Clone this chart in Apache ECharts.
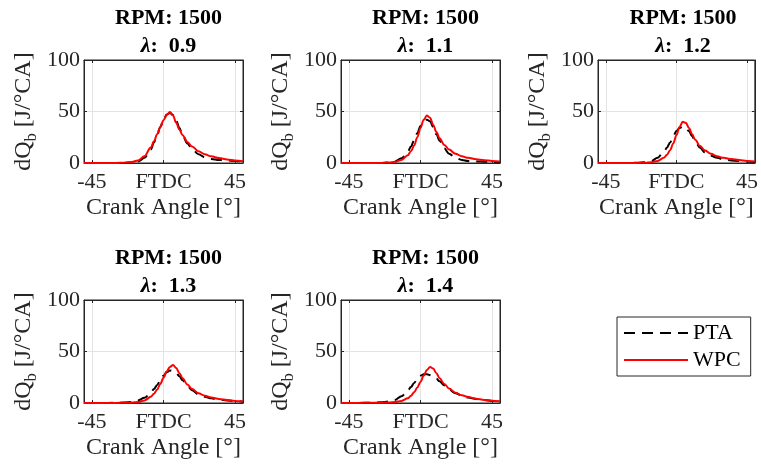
<!DOCTYPE html>
<html>
<head>
<meta charset="utf-8">
<script src="https://cdn.jsdelivr.net/npm/echarts@6/dist/echarts.min.js"></script>
<style>
  html, body { margin: 0; padding: 0; background: #ffffff; }
  #chart { width: 761px; height: 466px; }
</style>
</head>
<body>
<div id="chart"></div>
<script>
// Heat release rate dQb [J/°CA] vs crank angle, PTA vs WPC, 1500 RPM
const rpm = 1500;
const lambdas = ['0.9', '1.1', '1.2', '1.3', '1.4'];
const crankAngle = [-50, -40, -30, -25, -20, -16, -12, -8, -6, -4, -2, 0, 2, 4, 6, 8, 10, 12, 15, 18, 22, 26, 30, 35, 40, 45, 50];

const ptaL09 = [0, 0, 0, 0.1, 0.5, 1.5, 5, 13, 20, 27, 35, 42, 47, 48.5, 46.5, 41, 34, 27, 19, 13.5, 8.5, 5.5, 4, 3, 2.5, 2, 1.5];
const wpcL09 = [0, 0, 0.1, 0.3, 1, 2.5, 6.5, 15, 21, 28, 35, 41.5, 46.5, 49.5, 46, 39, 32.5, 27, 20.5, 16, 11.5, 8.5, 6.5, 4.8, 3.5, 2.5, 1.8];

const ptaL11 = [0, 0, 0, 0.1, 0.5, 1.5, 4.5, 11, 16, 22, 29, 36, 40.5, 42, 40.5, 35, 28, 21.5, 14, 9, 5, 3, 2, 1.5, 1.2, 1, 0.8];
const wpcL11 = [0, 0, 0, 0.1, 0.4, 1.2, 3, 7.5, 11.5, 17, 25, 34, 42, 46, 44, 37, 30, 24, 17.5, 13, 9, 6.5, 5, 3.6, 2.7, 2, 1.5];

const ptaL12 = [0, 0, 0, 0.2, 0.7, 2, 5, 11, 15, 20, 26, 31, 34, 35, 34.5, 31, 26, 21, 15, 10.5, 7, 5, 3.5, 2.5, 2, 1.5, 1];
const wpcL12 = [0, 0, 0, 0.1, 0.3, 0.8, 2, 5, 8, 12.5, 19, 27, 35, 40, 39, 34, 28, 22.5, 16.5, 12.5, 9, 6.5, 5, 3.8, 2.8, 2, 1.5];

const ptaL13 = [0, 0, 0.2, 0.5, 1, 2.5, 5, 10, 13.5, 17.5, 22, 26.5, 30, 31.5, 31, 29, 26, 22, 16.5, 12.5, 8.5, 6, 4.5, 3.2, 2.5, 1.8, 1.3];
const wpcL13 = [0, 0, 0.1, 0.2, 0.5, 1, 2.5, 6, 9, 13, 18.5, 24.5, 30.5, 35, 37, 34, 29, 24, 18, 13.5, 9.5, 7, 5.3, 3.8, 2.8, 2, 1.5];

const ptaL14 = [0, 0.1, 0.3, 0.7, 1.5, 3, 6.5, 12, 15.5, 19.5, 23.5, 26.5, 28, 28, 27, 25.5, 23.5, 21, 17, 13, 9.5, 7, 5.3, 3.8, 2.8, 2, 1.4];
const wpcL14 = [0, 0.1, 0.2, 0.3, 0.6, 1, 2, 4.5, 7, 10.5, 15, 20.5, 26.5, 32, 35, 33.5, 29, 24, 18.5, 14, 10, 7.5, 5.8, 4.2, 3, 2.2, 1.6];

const ptaSets = [ptaL09, ptaL11, ptaL12, ptaL13, ptaL14];
const wpcSets = [wpcL09, wpcL11, wpcL12, wpcL13, wpcL14];

const xTickValues = [-45, 0, 45];
const xTickLabels = ['-45', 'FTDC', '45'];
const yTickValues = [0, 50, 100];

// panel placement on the page
const panels = [
  { left: 84, top: 60, width: 159, height: 103 },
  { left: 341, top: 60, width: 159, height: 103 },
  { left: 598, top: 60, width: 160, height: 103 },
  { left: 84, top: 300, width: 159, height: 103 },
  { left: 341, top: 300, width: 159, height: 103 }
];

const FONT = 'Liberation Serif';
const AX = '#262626';
const GRIDC = '#e3e3e3';

const pairs = (xs, ys) => xs.map((x, i) => [x, ys[i]]);

const grids = [], xAxes = [], yAxes = [], titles = [], series = [];

panels.forEach((p, i) => {
  grids.push({ left: p.left, top: p.top, width: p.width, height: p.height,
    show: true, borderColor: AX, borderWidth: 1, backgroundColor: '#fff' });

  // bottom axis with labels
  xAxes.push({
    type: 'value', gridIndex: i, position: 'bottom', min: -50, max: 50,
    name: 'Crank Angle [°]', nameLocation: 'middle', nameGap: 33,
    nameTextStyle: { fontFamily: FONT, fontSize: 24, color: AX },
    axisLine: { show: true, onZero: false, lineStyle: { color: AX, width: 1 } },
    axisTick: { show: true, inside: true, length: 3, customValues: xTickValues, lineStyle: { color: AX } },
    axisLabel: { show: true, customValues: xTickValues, margin: 8, fontFamily: FONT, fontSize: 22, color: AX,
      formatter: v => xTickLabels[xTickValues.indexOf(v)] },
    splitLine: { show: true, lineStyle: { color: GRIDC, width: 1 } }
  });
  // top axis, ticks only
  xAxes.push({
    type: 'value', gridIndex: i, position: 'top', min: -50, max: 50,
    axisLine: { show: true, onZero: false, lineStyle: { color: AX, width: 1 } },
    axisTick: { show: true, inside: true, length: 3, customValues: xTickValues, lineStyle: { color: AX } },
    axisLabel: { show: false },
    splitLine: { show: false }
  });
  yAxes.push({
    type: 'value', gridIndex: i, position: 'left', min: 0, max: 100, interval: 50,
    name: 'dQ{sub|b} [J/°CA]', nameLocation: 'middle', nameRotate: 90, nameGap: 44,
    nameTextStyle: { fontFamily: FONT, fontSize: 24, color: AX, lineHeight: 32,
      rich: { sub: { fontFamily: FONT, fontSize: 16, color: AX, verticalAlign: 'bottom', lineHeight: 16 } } },
    axisLine: { show: true, onZero: false, lineStyle: { color: AX, width: 1 } },
    axisTick: { show: true, inside: true, length: 3, lineStyle: { color: AX } },
    axisLabel: { show: true, margin: 4, fontFamily: FONT, fontSize: 22, color: AX },
    splitLine: { show: true, lineStyle: { color: GRIDC, width: 1 } }
  });
  yAxes.push({
    type: 'value', gridIndex: i, position: 'right', min: 0, max: 100, interval: 50,
    axisLine: { show: true, onZero: false, lineStyle: { color: AX, width: 1 } },
    axisTick: { show: true, inside: true, length: 3, lineStyle: { color: AX } },
    axisLabel: { show: false },
    splitLine: { show: false }
  });

  titles.push({
    text: '{a|RPM: ' + rpm + '}\n{l|λ}{a|:  ' + lambdas[i] + '}',
    left: p.left + p.width / 2, top: p.top - 61, textAlign: 'center',
    textStyle: {
      rich: {
        a: { fontFamily: FONT, fontSize: 22, fontWeight: 'bold', color: '#000', lineHeight: 28 },
        l: { fontFamily: FONT, fontSize: 22, fontWeight: 'bold', fontStyle: 'italic', color: '#000', lineHeight: 28 }
      }
    }
  });

  series.push({
    name: 'PTA', type: 'line', xAxisIndex: 2 * i, yAxisIndex: 2 * i,
    data: pairs(crankAngle, ptaSets[i]), showSymbol: false, symbol: 'none',
    smooth: 0.35, smoothMonotone: 'x',
    lineStyle: { color: '#000', width: 2, type: [11, 7] }, itemStyle: { color: '#000' }
  });
  series.push({
    name: 'WPC', type: 'line', xAxisIndex: 2 * i, yAxisIndex: 2 * i,
    data: pairs(crankAngle, wpcSets[i]), showSymbol: false, symbol: 'none',
    smooth: 0.35, smoothMonotone: 'x',
    lineStyle: { color: '#ff0000', width: 2 }, itemStyle: { color: '#ff0000' }
  });
});

const chart = echarts.init(document.getElementById('chart'), null, { renderer: 'canvas' });
chart.setOption({
  animation: false,
  backgroundColor: '#ffffff',
  title: titles,
  grid: grids,
  xAxis: xAxes,
  yAxis: yAxes,
  legend: {
    data: ['PTA', 'WPC'], orient: 'vertical', left: 617, top: 317,
    itemWidth: 64, itemHeight: 14, itemGap: 5,
    itemStyle: { opacity: 0 },
    padding: [5, 10, 5, 6], borderColor: AX, borderWidth: 1, backgroundColor: '#fff',
    textStyle: { fontFamily: FONT, fontSize: 22, color: '#000' }
  },
  series: series
});
</script>
</body>
</html>
